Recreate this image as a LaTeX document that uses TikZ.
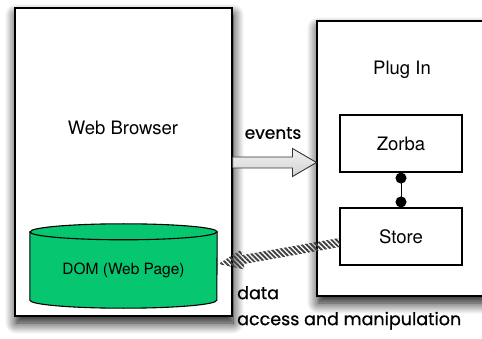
\documentclass[tikz,border=0pt]{standalone}
\usepackage{fontspec}
\setmainfont{TeX Gyre Heros}
\newfontfamily\futura{Poppins}[FakeBold=0.8]
\usepackage{tikz}
\usetikzlibrary{calc,arrows.meta,patterns.meta,shadows.blur}
\definecolor{domgreen}{RGB}{6,198,112}
\tikzstyle{frame}=[draw=black,line width=1.4pt,fill=white,
  blur shadow={shadow xshift=1pt,shadow yshift=-7pt,shadow blur radius=11pt,shadow blur steps=12,shadow opacity=95}]
\tikzstyle{title}=[font=\fontsize{18.5}{20}\selectfont]
\tikzstyle{part}=[draw=black,line width=1.1pt,fill=white,minimum width=122pt,minimum height=57pt,font=\fontsize{18.5}{20}\selectfont]
\tikzstyle{cyl}=[draw=black,line width=1.1pt,fill=domgreen]
\tikzstyle{note}=[font=\futura\fontsize{17.5}{26}\selectfont,align=left,inner sep=0pt]
\tikzstyle{link}=[line width=1pt,{Circle[length=11pt,width=11pt]}-{Circle[length=11pt,width=11pt]}]
\tikzset{fat arrow/.style n args={3}{to path={
    coordinate (fa-n) at ($(\tikztotarget)!#3!(\tikztostart)$)
    ($(\tikztostart)!#1!90:(\tikztotarget)$)
    -- ($(fa-n)!#1!90:(\tikztotarget)$)
    -- ($(fa-n)!#2!90:(\tikztotarget)$)
    -- (\tikztotarget)
    -- ($(fa-n)!#2!-90:(\tikztotarget)$)
    -- ($(fa-n)!#1!-90:(\tikztotarget)$)
    -- ($(\tikztostart)!#1!-90:(\tikztotarget)$)
    -- cycle}}}
\tikzstyle{events}=[fat arrow={5.5pt}{14pt}{24pt},draw=gray!40!black,line width=0.9pt,top color=gray!10,bottom color=gray!35]
\tikzstyle{data}=[fat arrow={4.5pt}{10pt}{25pt},pattern={Lines[angle=-45,distance=3.5pt,line width=1.9pt]},pattern color=black!75]

\begin{document}
\begin{tikzpicture}[x=1pt,y=-1pt]
    \useasboundingbox (0,0) rectangle (482,339);
    % the two frames
    \node[frame,minimum width=213pt,minimum height=275pt] (plugin) at (423.5,158.5) {};
    \node[frame,minimum width=217pt,minimum height=308pt] (browser) at (123.5,162) {};
    \node[title] (browsertitle) at (123,128) {Web Browser};
    \node[title] (plugintitle) at (402,70) {Plug In};
    % DOM cylinder
    \path node[minimum width=187pt,minimum height=76pt,inner sep=0pt] (dom) at (123.5,270) {};
    \draw[cyl] (dom.north west) -- ([yshift=8pt]dom.south west)
        arc[start angle=180,end angle=0,x radius=93.5,y radius=8]
        -- (dom.north east)
        arc[start angle=0,end angle=-180,x radius=93.5,y radius=8] -- cycle;
    \draw[cyl,fill=none] (dom.north west) arc[start angle=180,end angle=0,x radius=93.5,y radius=8];
    \node[font=\fontsize{15.5}{17}\selectfont] (domlabel) at (dom.center) {DOM (Web Page)};
    % plug in parts
    \foreach \pos/\name/\txt in {{(401,143.5)/zorba/Zorba},{(401,236.5)/store/Store}}
        \node[part] (\name) at \pos {\txt};
    \draw[link] (zorba.south) -- (store.north);
    % arrows
    \coordinate (evs) at (browser.east |- 0,162.5);
    \coordinate (evt) at (316.5,162.5);
    \path[events] (evs) to (evt);
    \node[note,font=\futura\fontsize{17}{20}\selectfont] (eventslabel) at (273,133) {events};
    \coordinate (dts) at ([yshift=-6pt]store.west);
    \coordinate (dtt) at ([shift={(1,-6)}]dom.east);
    \path[data] (dts) to (dtt);
    \node[note,anchor=north west] (datalabel) at (237,286) {data\\access and manipulation};
\end{tikzpicture}
\end{document}
